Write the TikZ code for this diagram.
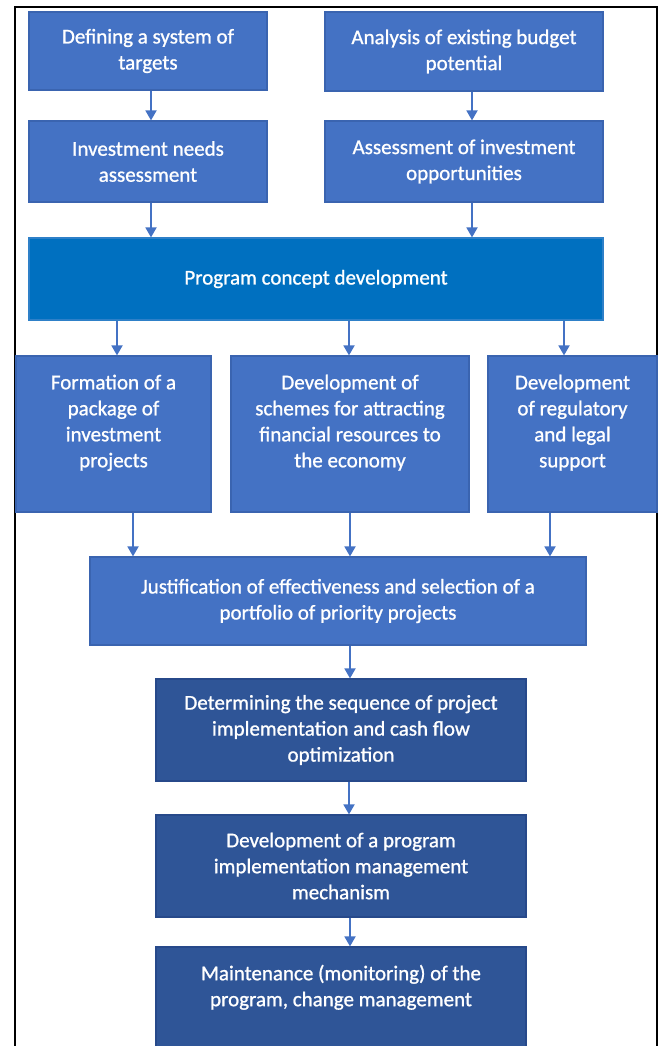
\documentclass[tikz,border=0pt]{standalone}
\usepackage{fontspec}
\setmainfont{Carlito}[FakeBold=1]
\usetikzlibrary{arrows.meta}
\definecolor{stepblue}{HTML}{4472C4}
\definecolor{stepedge}{HTML}{3A64B0}
\definecolor{conceptblue}{HTML}{0070C0}
\definecolor{conceptedge}{HTML}{2E80C8}
\definecolor{darkstep}{HTML}{2F5597}
\definecolor{darkedge}{HTML}{27498A}
\definecolor{arrowblue}{HTML}{4472C4}
\tikzset{
  box/.style={rectangle, inner sep=0pt, align=center, text=white,
    font=\fontsize{21}{26}\selectfont, line width=1.2pt},
  upbox/.style={box, fill=stepblue, draw=stepedge},
  conceptbox/.style={box, fill=conceptblue, draw=conceptedge},
  lowbox/.style={box, fill=darkstep, draw=darkedge},
  arr/.style={draw=arrowblue, line width=1.8pt,
    -{Triangle[width=11pt,length=10pt]}}
}
\begin{document}
\begin{tikzpicture}[x=1pt,y=-1pt]
  \useasboundingbox (0,0) rectangle (660,1046);
  \clip (0,0) rectangle (660,1046);
  \fill[white] (0,0) rectangle (660,1046);
  % outer frame
  \draw[black, line width=1.5pt] (15,1060) -- (15,7) -- (657,7) -- (657,1060);

  % top two columns
  \node[upbox, minimum width=238pt, minimum height=78pt] (b1) at (148,51)
    {Defining a system of\\targets};
  \node[upbox, minimum width=238pt, minimum height=81pt] (b2) at (148,161.5)
    {Investment needs\\assessment};
  \node[upbox, minimum width=278pt, minimum height=79pt] (b3) at (464,51.5)
    {Analysis of existing budget\\potential};
  \node[upbox, minimum width=278pt, minimum height=81pt] (b4) at (464,161.5)
    {Assessment of investment\\opportunities};

  % program concept
  \node[conceptbox, minimum width=574pt, minimum height=82pt] (pc) at (316,279)
    {Program concept development};

  % three parallel directions
  \node[upbox, minimum width=195pt, minimum height=156pt] (f1) at (113.5,434)
    {Formation of a\\package of\\investment\\projects\\\mbox{}};
  \node[upbox, minimum width=238pt, minimum height=156pt] (f2) at (350,434)
    {Development of\\schemes for attracting\\financial resources to\\the economy\\\mbox{}};
  \node[upbox, minimum width=169pt, minimum height=156pt] (f3) at (572.5,434)
    {Development\\of regulatory\\and legal\\support\\\mbox{}};

  % selection and implementation chain
  \node[upbox, minimum width=496pt, minimum height=88pt] (j) at (338,601)
    {Justification of effectiveness and selection of a\\portfolio of priority projects};
  \node[lowbox, minimum width=370pt, minimum height=102pt] (d1) at (341,730)
    {Determining the sequence of project\\implementation and cash flow\\optimization};
  \node[lowbox, minimum width=370pt, minimum height=102pt] (d2) at (341,866)
    {Development of a program\\implementation management\\mechanism};
  \node[lowbox, minimum width=370pt, minimum height=103pt] (d3) at (341,998.5)
    {Maintenance (monitoring) of the\\program, change management\\\mbox{}};

  % connectors
  \draw[arr] ([xshift=3pt]b1.south) -- ([xshift=3pt]b1.south |- b2.north);
  \draw[arr] ([xshift=3pt]b2.south) -- ([xshift=3pt]b2.south |- pc.north);
  \draw[arr] ([xshift=8pt]b3.south) -- ([xshift=8pt]b3.south |- b4.north);
  \draw[arr] ([xshift=8pt]b4.south) -- ([xshift=8pt]b4.south |- pc.north);

  \draw[arr] ([xshift=3.5pt]f1.north |- pc.south) -- ([xshift=3.5pt]f1.north);
  \draw[arr] ([xshift=-1pt]f2.north |- pc.south) -- ([xshift=-1pt]f2.north);
  \draw[arr] ([xshift=-8.5pt]f3.north |- pc.south) -- ([xshift=-8.5pt]f3.north);

  \draw[arr] ([xshift=19.5pt]f1.south) -- ([xshift=19.5pt]f1.south |- j.north);
  \draw[arr] (f2.south) -- (f2.south |- j.north);
  \draw[arr] ([xshift=-22.5pt]f3.south) -- ([xshift=-22.5pt]f3.south |- j.north);

  \draw[arr] ([xshift=9pt]d1.north |- j.south) -- ([xshift=9pt]d1.north);
  \draw[arr] ([xshift=8pt]d1.south) -- ([xshift=8pt]d2.north);
  \draw[arr] ([xshift=9pt]d2.south) -- ([xshift=9pt]d3.north);
\end{tikzpicture}
\end{document}
